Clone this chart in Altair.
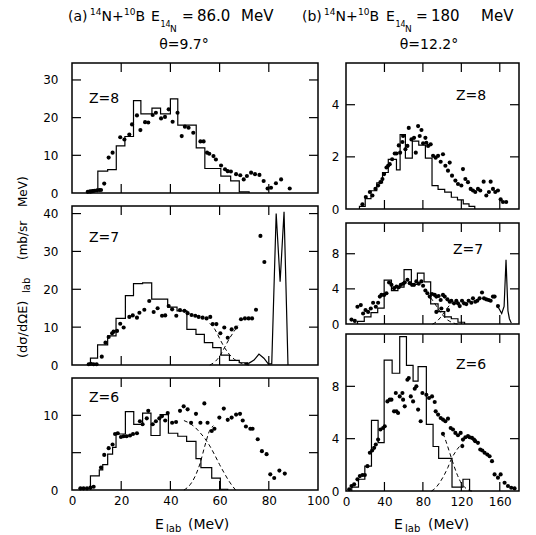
import altair as alt
import pandas as pd

FONT = "DejaVu Sans"

# ---------------- data: (a) 14N+10B, 86 MeV ----------------
a8_E = [6.4,7.5,8.4,9.1,10.2,11.1,11.8,13.1,14.9,16.5,19.6,21.3,23.3,24.4,26.4,27.8,29.7,31.0,32.8,34.1,36.2,37.8,39.3,40.9,42.9,44.6,45.9,47.4,49.3,52.2,53.5,54.9,55.8,57.5,58.5,60.6,62.2,63.3,64.6,66.7,68.4,69.8,71.1,72.8,74.4,76.2,77.9,79.5,80.9,82.9,85.0,88.5]
a8_v = [0.3,0.35,0.5,0.6,0.7,0.8,0.8,2.5,9.4,10.7,14.8,14.2,15.5,18.2,20.6,16.7,18.8,18.7,20.7,21.3,19.8,20.2,22.2,18.9,21.3,15.1,17.6,17.3,16.0,13.7,13.7,10.7,10.4,9.8,8.9,7.3,6.3,5.8,5.7,5.0,4.7,3.6,4.5,5.4,5.0,4.8,3.2,1.2,1.4,2.6,3.6,1.2]
a8_hist_edges = [7, 10.5, 14.5, 18, 21.5, 25, 28, 32.5, 36, 40, 43, 50.5, 54, 60.5, 64.5, 68, 72]
a8_hist_vals = [0.8, 5.8, 6.2, 12.5, 15, 24.5, 21, 22.5, 21, 25, 18, 12, 6.5, 4.5, 3.2, 0.3]

a7_E = [6.8,7.7,8.8,10.0,12.1,13.6,14.9,16.3,16.9,18.3,19.6,21.0,23.3,24.7,26.4,27.4,29.4,31.4,33.2,34.8,36.6,37.9,39.3,40.7,42.4,43.9,45.7,47.0,48.6,50.1,51.5,53.1,54.7,56.2,57.2,58.7,60.3,61.9,63.3,64.9,66.7,68.7,70.3,71.8,73.2,74.8,76.6,78.2]
a7_v = [0.2,0.3,0.2,0.2,2.2,5.9,7.4,8.4,8.8,9.0,10.9,9.9,12.7,13.1,12.5,13.8,14.6,16.9,14.0,15.0,13.0,13.1,15.6,14.7,13.0,14.5,14.3,13.7,13.2,13.0,12.7,12.5,12.3,12.7,10.8,10.8,8.4,9.9,7.2,9.4,9.9,12.1,12.3,12.3,12.3,14.6,34.1,27.2]
a7_hist_edges = [7.5, 10.4, 14.5, 17.9, 21.7, 25, 28.7, 32.4, 38.9, 42.7, 46.7, 50.4, 53.8, 57.2, 60.6, 64, 68, 71.4]
a7_hist_vals = [1.8, 5.3, 7.7, 12.3, 18.3, 21.5, 21.7, 17.4, 15.3, 14.3, 9.4, 8.1, 5.9, 4.6, 2.6, 1.2, 0.6]
a7_peak_E = [70, 72, 74, 76, 78, 79.8, 81.2, 83, 84.6, 86.2, 87.8]
a7_peak_v = [0.3, 0.5, 1.3, 2.9, 1.8, 0.3, 0.3, 40, 22, 40.5, 0]
a7_dash1_E = [56, 58, 60, 62, 64, 66, 68, 70, 72]
a7_dash1_v = [11, 9.5, 7, 4.6, 2.8, 1.5, 0.7, 0.2, 0]
a7_dash2_E = [56, 58, 60, 62, 64, 66, 67.5]
a7_dash2_v = [0, 0.8, 2.3, 4.6, 7, 9, 10.5]

a6_E = [3.4,4.7,6.1,7.5,8.8,11.8,13.1,14.9,16.5,17.5,18.6,19.9,21.0,22.2,23.6,24.8,26.4,27.6,28.7,30.4,31.0,32.8,34.1,35.5,36.6,37.9,38.9,40.7,42.3,43.9,45.4,47.0,48.4,50.4,52.2,53.8,55.1,56.8,57.9,59.9,61.7,63.3,64.9,66.7,68.3,69.4,70.7,72.5,73.4,75.5,77.2,79.1,80.6,82.2,84.3,86.5]
a6_v = [0.22,0.22,0.22,0.31,0.44,3.0,4.7,5.6,6.1,7.5,7.6,7.1,7.2,7.2,7.3,7.5,7.6,9.2,8.8,9.6,10.6,8.8,9.2,9.6,9.9,9.3,10.3,9.0,9.1,10.6,11.2,10.8,9.0,10.2,9.0,11.6,9.0,7.9,8.2,9.7,10.9,9.4,9.7,10.1,10.2,9.3,8.5,8.2,8.2,6.8,5.2,4.8,2.1,1.6,2.6,2.2]
a6_hist_edges = [7.5, 11.1, 12.5, 14.5, 16.5, 17.9, 21.7, 25.1, 28.7, 32.1, 35.8, 39.2, 43, 46.6, 50.4, 52.4, 56.8, 60.3, 63.3]
a6_hist_vals = [1.9, 2.7, 3.4, 4.8, 5.7, 7.5, 10.5, 8.8, 10.3, 7.3, 10.1, 7.6, 7.2, 6.5, 4.2, 3.0, 1.6, 0.1]
a6_dash1_E = [45.5, 48, 50, 52, 54, 56, 58, 60, 62, 64, 66.5]
a6_dash1_v = [9.3, 8.9, 8.4, 7.7, 6.9, 5.9, 4.7, 3.4, 2.2, 1.1, 0]
a6_dash2_E = [45.5, 48, 50, 52, 54, 56, 57.5]
a6_dash2_v = [0, 0.7, 1.8, 3.5, 5.9, 8.0, 8.6]

# ---------------- data: (b) 14N+10B, 180 MeV ----------------
b8_E = [17.1,20.6,24.8,27.5,30.6,33.4,35.8,37.9,39.7,42.1,43.8,45.5,48.0,50.7,52.5,54.9,56.3,58.7,59.4,61.8,63.9,65.3,68.1,70.8,72.6,75.0,76.7,78.5,80.2,82.6,83.6,85.4,88.1,90.6,93.3,95.8,98.5,100.9,103.4,106.1,107.9,110.3,113.8,116.5,120.0,121.7,124.2,126.9,129.7,132.1,134.5,137.3,139.7,143.2,146.0,148.7,150.5,152.9,155.3,158.1,160.9,163.3,166.7]
b8_v = [0.18,0.46,0.65,0.52,0.77,0.90,1.03,1.15,1.34,1.59,1.66,1.72,1.91,2.13,2.13,2.44,2.16,2.57,2.80,2.29,2.42,3.11,2.67,2.73,2.16,3.18,2.80,3.03,2.52,2.73,2.54,2.42,2.48,2.04,1.97,2.04,1.81,2.10,1.66,1.47,1.78,1.28,1.09,0.96,0.90,1.53,1.15,1.03,0.77,0.71,0.65,0.77,0.71,1.05,0.52,0.65,1.05,0.77,0.65,0.71,0.37,0.27,0.27]
b8_hist_edges = [14, 20, 26, 32, 38, 44, 52.5, 56.3, 61.8, 69, 75.7, 82.6, 89.5, 95.8, 102.7, 109.6, 116, 122, 128, 134]
b8_hist_vals = [0.1, 0.4, 0.7, 1.0, 1.4, 1.9, 1.5, 2.85, 1.95, 2.6, 2.45, 1.95, 0.9, 0.75, 0.65, 0.45, 0.35, 0.2, 0.1]

b7_E = [5.7,9.2,11.9,15.4,17.8,20.3,23.0,25.8,28.2,31.0,33.4,35.2,36.9,39.7,42.1,44.8,47.3,50.0,52.5,54.9,57.0,59.4,61.1,63.9,66.3,68.7,70.8,73.2,75.7,78.4,80.2,82.6,84.7,87.1,89.5,92.3,94.0,96.4,98.5,100.9,102.7,105.5,107.9,109.6,112.4,114.8,116.5,118.3,120.7,122.8,125.2,127.6,130.4,132.1,134.5,136.6,139.0,141.5,143.6,145.9,148.4,150.5,152.9,154.6,158.1,94.0,99.2,106.2]
b7_v = [0.5,0.35,1.96,2.15,1.19,1.58,1.38,1.77,2.42,1.96,2.42,3.12,3.31,3.31,3.5,4.73,4.46,4.08,4.27,4.19,4.46,4.58,4.73,5.04,4.65,4.46,4.46,4.85,4.58,4.85,4.35,3.81,3.5,3.12,3.42,3.31,3.12,3.19,2.73,3.31,3.12,2.81,2.54,2.65,2.35,2.65,2.35,2.04,2.65,2.35,2.27,2.65,2.42,2.92,2.54,2.65,2.92,3.58,2.92,2.81,2.73,2.65,3.12,3.12,2.04,1.38,1.77,1.58]
b7_hist_edges = [12, 19, 26, 33, 39.7, 47.3, 54, 60.4, 68, 74.3, 81.2, 88.1, 95.8, 102.7, 109.6, 116.5, 123.4]
b7_hist_vals = [0.3, 0.8, 1.3, 1.8, 5.0, 3.8, 4.2, 6.2, 4.5, 5.8, 4.8, 2.3, 1.4, 0.8, 0.6, 0.2]
b7_peak_E = [158, 162, 164.5, 166.5, 168.5, 170, 172]
b7_peak_v = [2.0, 1.2, 2.0, 7.3, 1.5, 0.6, 0.1]
b7_dash1_E = [88, 92, 96, 100, 104, 108, 112, 116]
b7_dash1_v = [3.0, 2.4, 1.7, 1.1, 0.6, 0.3, 0.1, 0]
b7_dash2_E = [90, 94, 98, 102, 106, 110]
b7_dash2_v = [0, 0.25, 0.7, 1.3, 1.9, 2.4]

b6_E = [3.3,5.7,8.5,11.9,14.4,17.1,19.6,22.3,24.8,27.2,29.3,31.0,33.4,35.8,38.6,40.3,43.1,45.5,47.3,50.0,52.5,54.2,51.8,55.9,58.7,59.4,61.1,63.9,65.3,67.4,69.8,71.5,73.2,75.0,77.7,79.5,83.6,86.4,89.5,92.3,93.3,95.8,98.5,100.9,103.4,106.1,108.9,111.3,113.8,116.5,119.3,121.0,121.7,124.2,126.9,128.6,131.1,133.2,134.5,137.3,139.7,141.8,144.2,147.0,149.4,151.9,154.6,158.1,160.9,165.0,168.5,171.9,175.4,100.9]
b6_v = [0.13,0.38,0.51,0.89,1.14,1.22,1.22,1.90,2.92,3.10,3.30,3.55,3.93,4.70,4.82,4.95,6.85,6.98,6.98,6.09,6.09,5.96,7.49,7.23,7.49,6.98,6.47,8.50,8.63,7.23,6.85,7.82,8.0,6.22,5.33,7.49,7.36,7.11,7.23,6.80,6.09,5.84,5.58,5.46,5.33,5.53,4.82,4.70,4.44,4.26,4.44,3.43,3.93,4.11,4.19,4.11,4.06,3.93,3.81,3.68,3.17,3.10,2.92,2.79,2.66,2.28,1.27,1.02,1.27,0.63,0.38,0.25,0.20,4.37]
b6_hist_edges = [6, 13, 19.6, 26.5, 33.4, 39.7, 48, 55.9, 62.9, 69.8, 75, 83.6, 90.6, 96.4, 110.3, 121.7, 128.6]
b6_hist_vals = [0.3, 0.9, 1.9, 5.4, 3.7, 10.0, 9.0, 11.8, 9.6, 8.4, 9.5, 5.1, 3.4, 2.5, 0.3, 0.9]
b6_dash1_E = [101, 104, 108, 112, 116, 120, 124, 128, 131]
b6_dash1_v = [4.4, 3.8, 2.9, 2.0, 1.2, 0.6, 0.25, 0.05, 0]
b6_dash2_E = [89, 94, 98, 102, 106, 110, 114, 118, 121]
b6_dash2_v = [0, 0.3, 0.7, 1.2, 1.8, 2.5, 3.0, 3.4, 3.6]

# axis values
a_xlabels = [0, 20, 40, 60, 80, 100]
a_xticks = [20, 40, 60, 80]
b_xlabels = [0, 40, 80, 120, 160]
b_xticks = [40, 80, 120, 160]

DUMMY = pd.DataFrame({"k": [0]})


def pts(E, v):
    return pd.DataFrame({"E": E, "v": v})


def hist_df(edges, vals):
    xs = [edges[0]] + list(edges[:-1]) + [edges[-1]]
    ys = [0] + list(vals) + [0]
    return pd.DataFrame({"E": xs, "v": ys, "o": list(range(len(xs)))})


def txt(t, ax, ay, origin, size=14, align="left", angle=0, baseline="alphabetic"):
    kw = dict(text=t, fontSize=size, font=FONT, align=align, baseline=baseline, color="black")
    if angle:
        kw["angle"] = angle
    return alt.Chart(DUMMY).mark_text(**kw).encode(
        x=alt.value(ax - origin[0]), y=alt.value(ay - origin[1]))


def panel(w, h, xdom, ydom, dots, hists, solid, dashes, xticks, yticks,
          xlabels, ylabels, show_x, ylabpad, extra):
    xs = alt.Scale(domain=xdom, nice=False, zero=False)
    ys = alt.Scale(domain=ydom, nice=False, zero=False)
    if show_x:
        xax = alt.Axis(values=xlabels, labelPadding=5, title=None)
    else:
        xax = None
    yax = alt.Axis(values=ylabels, labelPadding=ylabpad, title=None)

    def X(f="E"):
        return alt.X(f + ":Q", scale=xs, axis=xax)

    def Y(f="v"):
        return alt.Y(f + ":Q", scale=ys, axis=yax)

    layers = []
    tx = alt.Chart(pd.DataFrame({"t": xticks})).mark_rule(color="black", strokeWidth=1.2)
    layers.append(tx.encode(x=X("t"), y=alt.value(h), y2=alt.value(h - 9)))
    layers.append(tx.encode(x=X("t"), y=alt.value(0), y2=alt.value(9)))
    ty = alt.Chart(pd.DataFrame({"t": yticks})).mark_rule(color="black", strokeWidth=1.2)
    layers.append(ty.encode(y=Y("t"), x=alt.value(0), x2=alt.value(9)))
    layers.append(ty.encode(y=Y("t"), x=alt.value(w), x2=alt.value(w - 9)))
    for e, v in hists:
        layers.append(alt.Chart(hist_df(e, v)).mark_line(
            interpolate="step-after", color="black", strokeWidth=1.2).encode(
            x=X(), y=Y(), order="o:Q"))
    for e, v in solid:
        layers.append(alt.Chart(pts(e, v)).mark_line(
            color="black", strokeWidth=1.2).encode(x=X(), y=Y()))
    for e, v in dashes:
        layers.append(alt.Chart(pts(e, v)).mark_line(
            color="black", strokeWidth=1, strokeDash=[4, 3],
            interpolate="monotone").encode(x=X(), y=Y()))
    layers.append(alt.Chart(pts(*dots)).mark_circle(
        color="black", size=17, opacity=1).encode(x=X(), y=Y()))
    layers.extend(extra)
    return alt.layer(*layers).properties(width=w, height=h)


OA8, OA7, OA6 = (71, 62), (71, 205), (71, 377)
OB8, OB7, OB6 = (345, 62), (345, 222), (345, 333)

anchor = alt.Chart(DUMMY).mark_rule(stroke="white", strokeOpacity=0, strokeWidth=1).encode(
    x=alt.value(-70.5), x2=alt.value(-69.5), y=alt.value(-61.5))

title_a = [
    txt("(a)", 67, 20, OA8), txt("14", 89, 14, OA8, size=9), txt("N+", 100.5, 20, OA8),
    txt("10", 123, 14, OA8, size=9), txt("B", 134.5, 20, OA8), txt("E", 150, 20, OA8),
    txt("14", 159.5, 26, OA8, size=8), txt("N", 169, 31, OA8, size=9),
    txt("=", 181, 20, OA8), txt("86.0", 196, 20, OA8, size=15), txt("MeV", 240, 20, OA8, size=15),
    txt("θ=9.7°", 183, 48, OA8, align="center"),
    txt("(b)", 301, 20, OA8), txt("14", 323, 14, OA8, size=9), txt("N+", 334.5, 20, OA8),
    txt("10", 357, 14, OA8, size=9), txt("B", 368.5, 20, OA8), txt("E", 385, 20, OA8),
    txt("14", 394.5, 26, OA8, size=8), txt("N", 404, 31, OA8, size=9),
    txt("=", 415, 20, OA8), txt("180", 430, 20, OA8, size=15), txt("MeV", 480, 20, OA8, size=15),
    txt("θ=12.2°", 428, 48, OA8, align="center"),
    txt("Z=8", 88, 98, OA8, baseline="middle"),
]
ytitle = [
    txt("(dσ/dΩE)", 26, 357, OA7, size=13, angle=270),
    txt("lab", 29, 292, OA7, size=10, angle=270),
    txt("(mb/sr", 26, 259, OA7, size=12, angle=270),
    txt("MeV)", 26, 206, OA7, size=12, angle=270),
    txt("Z=7", 88, 237, OA7, baseline="middle"),
]
xtitle_a = [txt("E", 154, 528, OA6), txt("lab", 165, 531, OA6, size=10),
            txt("(MeV)", 187, 528, OA6), txt("Z=6", 88, 397, OA6, baseline="middle")]
xtitle_b = [txt("E", 393, 528, OB6), txt("lab", 404, 531, OB6, size=10),
            txt("(MeV)", 427, 528, OB6), txt("Z=6", 455, 364, OB6, baseline="middle")]

p_a8 = panel(246, 130, [0, 100], [0, 34.5], (a8_E, a8_v), [(a8_hist_edges, a8_hist_vals)], [], [],
             a_xticks, [10, 20, 30], a_xlabels, [0, 10, 20, 30], False, 14, [anchor] + title_a)
p_a7 = panel(246, 159, [0, 100], [0, 42], (a7_E, a7_v), [(a7_hist_edges, a7_hist_vals)],
             [(a7_peak_E, a7_peak_v)], [(a7_dash1_E, a7_dash1_v), (a7_dash2_E, a7_dash2_v)],
             a_xticks, [10, 20, 30, 40], a_xlabels, [0, 10, 20, 30, 40], False, 14, ytitle)
p_a6 = panel(246, 112, [0, 100], [0, 15], (a6_E, a6_v), [(a6_hist_edges, a6_hist_vals)], [],
             [(a6_dash1_E, a6_dash1_v), (a6_dash2_E, a6_dash2_v)],
             a_xticks, [5, 10], a_xlabels, [0, 10], True, 14, xtitle_a)

p_b8 = panel(173, 146, [0, 180], [0, 5.6], (b8_E, b8_v), [(b8_hist_edges, b8_hist_vals)], [], [],
             b_xticks, [2, 4], b_xlabels, [0, 2, 4], False, 7,
             [txt("Z=8", 455, 95, OB8, baseline="middle")])
p_b7 = panel(173, 101, [0, 180], [0, 11.5], (b7_E, b7_v), [(b7_hist_edges, b7_hist_vals)],
             [(b7_peak_E, b7_peak_v)], [(b7_dash1_E, b7_dash1_v), (b7_dash2_E, b7_dash2_v)],
             b_xticks, [4, 8], b_xlabels, [0, 4, 8], False, 7,
             [txt("Z=7", 452, 249, OB7, baseline="middle")])
p_b6 = panel(173, 157, [0, 180], [0, 12], (b6_E, b6_v), [(b6_hist_edges, b6_hist_vals)], [],
             [(b6_dash1_E, b6_dash1_v), (b6_dash2_E, b6_dash2_v)],
             b_xticks, [4, 8], b_xlabels, [0, 4, 8], True, 7, xtitle_b)

left = alt.vconcat(p_a8, p_a7, p_a6, spacing=13, bounds="flush")
right = alt.vconcat(p_b8, alt.vconcat(p_b7, p_b6, spacing=10, bounds="flush"),
                    spacing=14, bounds="flush")

# nested column groups report no width under flush bounds, so the offset of the
# right column is the left column's width (246) plus the 28 px gap
chart = alt.hconcat(left, right, spacing=274, bounds="flush").properties(
    padding=0, background="white"
).configure_view(
    stroke="black", strokeWidth=1.5
).configure_axis(
    labelFont=FONT, labelFontSize=12, labelColor="black", ticks=False,
    domain=False, grid=False, labelFlush=False, labelOverlap=False
)

chart.save("out.html", embed_options={"renderer": "svg", "actions": False})
